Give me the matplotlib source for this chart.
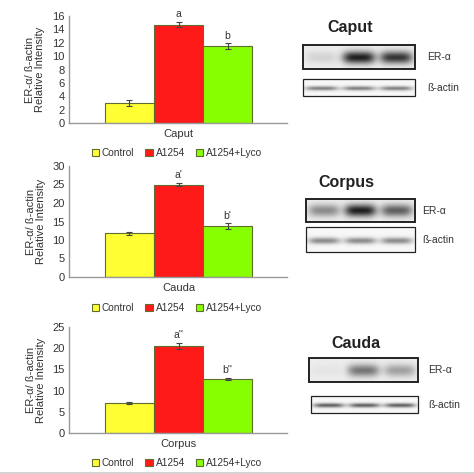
"""
ER-α / ß-actin relative intensity with western blots (caput, cauda, corpus)
"""
import matplotlib
matplotlib.use('Agg')
import matplotlib.pyplot as plt
from matplotlib.patches import Rectangle
import numpy as np

plt.rcParams['font.family'] = ['Liberation Sans', 'DejaVu Sans']

# ============================================================
# 1. Data
# ============================================================
groups = ['Control', 'A1254', 'A1254+Lyco']
colors = ['#ffff33', '#ff1a1a', '#88ff00']
edge_c = '#5f6d2e'

panel_names = ['Caput', 'Cauda', 'Corpus']
values = [[3.0, 14.7, 11.5],
          [11.8, 25.0, 13.7],
          [7.0, 20.6, 12.7]]
errors = [[0.4, 0.4, 0.4],
          [0.4, 0.5, 0.8],
          [0.2, 0.7, 0.3]]
letters = [['', 'a', 'b'],
           ['', "a'", "b'"],
           ['', "a''", "b''"]]
ymax = [16, 30, 25]
ystep = [2, 5, 5]

# blot band strength per lane (Control, A1254, A1254+Lyco)
blot_titles = ['Caput', 'Corpus', 'Cauda']
er_bands = [[0.12, 0.95, 0.85],
            [0.45, 0.95, 0.65],
            [0.04, 0.55, 0.35]]
actin_bands = [[0.55, 0.55, 0.55],
               [0.5, 0.5, 0.5],
               [0.7, 0.7, 0.7]]

# ============================================================
# 2. Bar charts
# ============================================================
W = 474
fig = plt.figure(figsize=(4.74, 4.74), dpi=100)

# pixel boxes (left, top, right, bottom)
boxes = [(69, 16, 287, 123), (69, 166, 287, 277), (69, 327, 287, 433)]

for k, (x0, y0, x1, y1) in enumerate(boxes):
    ax = fig.add_axes([x0 / W, 1 - y1 / W, (x1 - x0) / W, (y1 - y0) / W])
    xs = np.arange(3)
    bars = ax.bar(xs, values[k], width=1.0, color=colors, edgecolor=edge_c,
                  linewidth=0.8, label=groups)
    ax.errorbar(xs, values[k], yerr=errors[k], fmt='none', ecolor='#444444',
                elinewidth=0.8, capsize=2, capthick=0.8)
    for i in range(3):
        if letters[k][i]:
            ax.annotate(letters[k][i], (xs[i], values[k][i] + errors[k][i]),
                        xytext=(0, 2), textcoords='offset points',
                        ha='center', va='bottom', fontsize=7.5, color='#333333')
    ax.set_xlim(-1.233, 3.211)
    ax.set_ylim(0, ymax[k])
    ax.set_yticks(np.arange(0, ymax[k] + 1, ystep[k]))
    ax.set_xticks([1])
    ax.set_xticklabels([panel_names[k]])
    for s in ['top', 'right']:
        ax.spines[s].set_visible(False)
    for s in ['left', 'bottom']:
        ax.spines[s].set_color('#999999')
        ax.spines[s].set_linewidth(1.0)
    ax.tick_params(axis='both', length=0, labelsize=8, colors='#333333', pad=3)
    ax.tick_params(axis='x', pad=4)
    ax.set_ylabel('ER-α/ ß-actin\nRelative Intensity', fontsize=8,
                  color='#333333', linespacing=1.0, labelpad=5)
    ax.legend(bars, groups, loc='upper center', bbox_to_anchor=(0.495, -0.15),
              ncol=3, frameon=False, fontsize=7.3, handlelength=0.7,
              handleheight=0.7, handletextpad=0.3, columnspacing=1.1,
              labelcolor='#333333')

# ============================================================
# 3. Western blots (drawn in pixel coordinates)
# ============================================================
ov = fig.add_axes([0, 0, 1, 1])
ov.set_facecolor('none')


def blot(x0, y0, x1, y1, strengths, bg, band_y, band_h, lw):
    w, h = int((x1 - x0) * 4), int((y1 - y0) * 4)
    xx = np.linspace(0, 1, w)
    yy = np.linspace(0, 1, h)
    img = np.full((h, w), bg)
    for i, v in enumerate(strengths):
        cx = (i + 0.5) / 3
        px = np.exp(-((xx - cx) / 0.145) ** 4)
        py = np.exp(-((yy - band_y) / band_h) ** 2)
        img -= 0.85 * v * np.outer(py, px)
    ov.imshow(np.clip(img, 0, 1), cmap='gray', vmin=0, vmax=1, aspect='auto',
              extent=(x0, x1, y1, y0), interpolation='bilinear')
    ov.add_patch(Rectangle((x0, y0), x1 - x0, y1 - y0, fill=False,
                           edgecolor='#222222', linewidth=lw))


blot_pos = [
    # title (x, y), ER box, actin box, label x
    ((350, 27), (303, 45, 415, 69), (303, 79, 415, 96), 427),
    ((346, 182), (306, 199, 415, 222), (306, 227, 415, 252), 422),
    ((356, 343), (309, 358, 418, 382), (311, 396, 418, 413), 428),
]
for k, ((tx, ty), er_box, ac_box, lx) in enumerate(blot_pos):
    ov.text(tx, ty, blot_titles[k], ha='center', va='center', fontsize=11.5,
            fontweight='bold', color='#222222')
    blot(*er_box, er_bands[k], 0.93, 0.52, 0.26, 1.4)
    blot(*ac_box, actin_bands[k], 0.97, 0.55, 0.13, 0.9)
    ov.text(lx, (er_box[1] + er_box[3]) / 2, 'ER-α', ha='left', va='center',
            fontsize=7.5, color='#333333')
    ov.text(lx, (ac_box[1] + ac_box[3]) / 2, 'ß-actin', ha='left', va='center',
            fontsize=7.5, color='#333333')

# light grey strip at the bottom edge
ov.add_patch(Rectangle((0, 471.5), W, 3, color='#d4d4d4', linewidth=0))
ov.set_xlim(0, W)
ov.set_ylim(W, 0)
ov.axis('off')

plt.savefig('out.png', dpi=100)
plt.close()
